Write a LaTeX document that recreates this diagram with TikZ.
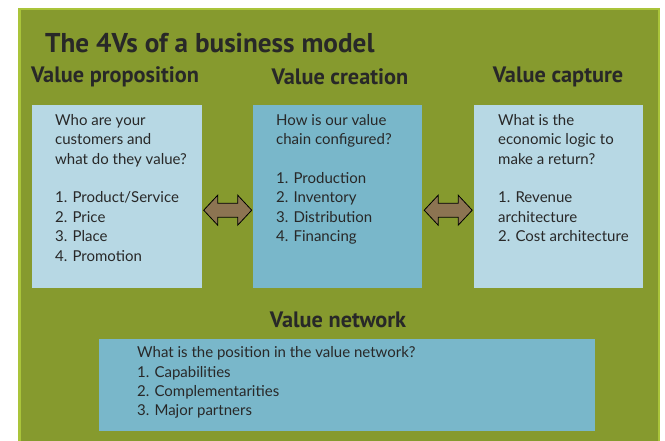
\documentclass[tikz,border=0pt]{standalone}
\usepackage{fontspec}
\setmainfont{Lato}
\newfontfamily\headfont{PT Sans}
\usetikzlibrary{calc}
\definecolor{bggreen}{RGB}{134,154,46}
\definecolor{bgborder}{RGB}{170,196,58}
\definecolor{lightbox}{RGB}{183,216,228}
\definecolor{midbox}{RGB}{121,183,202}
\definecolor{arrowbrown}{RGB}{140,116,82}
\definecolor{txt}{RGB}{40,40,40}
\begin{document}
\begin{tikzpicture}[x=1pt,y=-1pt,
  panel/.style={draw=none,inner sep=0pt},
  body/.style={anchor=north west,inner sep=0pt,align=left,text=txt,
    font=\fontsize{15}{19.4}\selectfont},
  heading/.style={inner sep=0pt,text=txt,font=\headfont\bfseries\fontsize{22.3}{26}\selectfont},
  dblarrow/.style={fill=arrowbrown,draw=black,line width=0.8pt,line join=miter}]
\useasboundingbox (0,0) rectangle (665,441);
\fill[white] (0,0) rectangle (665,441);
% background panel
\fill[bgborder] (18,8) rectangle (660,445);
\fill[bggreen] (20.5,10.5) rectangle (657.5,445);
% title
\node[heading,anchor=west,font=\headfont\bfseries\fontsize{27.2}{30}\selectfont] (title) at (45,43) {The 4Vs of a business model};
% headings
\node[heading] (h1) at (115,77) {Value proposition};
\node[heading] (h2) at (340,77) {Value creation};
\node[heading] (h3) at (558,77) {Value capture};
\node[heading] (h4) at (338,320) {Value network};
% boxes
\path[fill=lightbox] (32,105) rectangle (202,288);
\node[panel,minimum width=170pt,minimum height=183pt,anchor=north west] (b1) at (32,105) {};
\path[fill=midbox] (253,105) rectangle (422,288);
\node[panel,minimum width=169pt,minimum height=183pt,anchor=north west] (b2) at (253,105) {};
\path[fill=lightbox] (474,105) rectangle (643,288);
\node[panel,minimum width=169pt,minimum height=183pt,anchor=north west] (b3) at (474,105) {};
\path[fill=midbox] (99,339) rectangle (595,431);
\node[panel,minimum width=496pt,minimum height=92pt,anchor=north west] (b4) at (99,339) {};
% texts
\node[body] (t1) at (55,114) {Who are your\\customers and\\what do they value?\\[19.4pt]1. Product/Service\\2. Price\\3. Place\\4. Promotion};
\node[body] (t2) at (276,114) {How is our value\\chain configured?\\[19.4pt]1. Production\\2. Inventory\\3. Distribution\\4. Financing};
\node[body] (t3) at (498,114) {What is the\\economic logic to\\make a return?\\[19.4pt]1. Revenue\\architecture\\2. Cost architecture};
\node[body] (t4) at (137,346.5) {What is the position in the value network?\\1. Capabilities\\2. Complementarities\\3. Major partners};
% double arrows
\coordinate (m1) at ($($(b1.east)!0.5!(b2.west)$)+(0,13.5)$);
\coordinate (m2) at ($($(b2.east)!0.5!(b3.west)$)+(0,13.5)$);
\foreach \m in {m1,m2}{
  \draw[dblarrow] ($(\m)+(-24,0)$) -- ++(14,-15) -- ++(0,8) -- ++(20,0) -- ++(0,-8)
    -- ++(14,15) -- ++(-14,15) -- ++(0,-8) -- ++(-20,0) -- ++(0,8) -- cycle;
}
\end{tikzpicture}
\end{document}
